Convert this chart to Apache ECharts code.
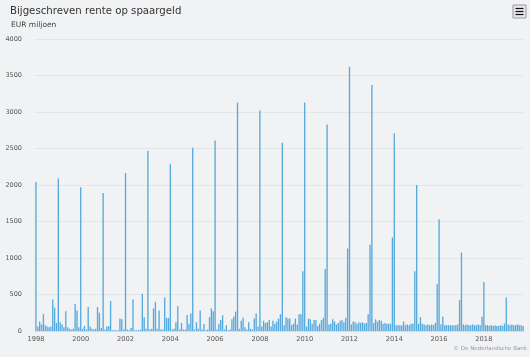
<!DOCTYPE html>
<html>
<head>
<meta charset="utf-8">
<script src="https://cdn.jsdelivr.net/npm/echarts@6/dist/echarts.min.js"></script>
<style>
html,body{margin:0;padding:0;background:#f1f2f4;}
#c{width:530px;height:357px;}
</style>
</head>
<body>
<div id="c"></div>
<script>
// Monthly interest credited on savings (EUR million), Jan..Dec per year
const y1998 = [2040, 60, 130, 90, 230, 80, 60, 50, 60, 430, 320, 110];
const y1999 = [2090, 120, 90, 50, 270, 50, 30, 20, 30, 370, 280, 50];
const y2000 = [1970, 30, 70, 20, 330, 60, 30, 20, 30, 330, 250, 40];
const y2001 = [1890, 20, 60, 70, 410, 10, 10, 10, 10, 170, 160, 20];
const y2002 = [2165, 20, 10, 40, 430, 10, 10, 10, 20, 510, 190, 30];
const y2003 = [2465, 20, 30, 310, 400, 30, 280, 20, 20, 460, 180, 180];
const y2004 = [2290, 20, 30, 120, 340, 20, 110, 20, 20, 220, 100, 240];
const y2005 = [2510, 20, 120, 30, 280, 20, 95, 10, 20, 190, 310, 270];
const y2006 = [2610, 20, 100, 150, 215, 20, 80, 10, 20, 160, 200, 265];
const y2007 = [3130, 30, 140, 180, 50, 20, 120, 30, 20, 170, 240, 60];
const y2008 = [3020, 60, 140, 110, 120, 150, 60, 140, 100, 130, 170, 230];
const y2009 = [2580, 80, 190, 170, 170, 80, 100, 170, 90, 230, 230, 820];
const y2010 = [3130, 60, 170, 160, 100, 150, 150, 70, 100, 150, 180, 850];
const y2011 = [2830, 90, 100, 160, 130, 90, 110, 140, 150, 120, 180, 1130];
const y2012 = [3620, 90, 130, 120, 100, 120, 110, 120, 100, 110, 230, 1180];
const y2013 = [3370, 110, 160, 130, 150, 140, 100, 110, 100, 100, 100, 1280];
const y2014 = [2710, 80, 80, 80, 80, 130, 80, 90, 80, 100, 100, 820];
const y2015 = [2000, 100, 190, 100, 90, 80, 90, 80, 90, 80, 110, 640];
const y2016 = [1530, 90, 200, 80, 80, 80, 80, 80, 80, 80, 90, 425];
const y2017 = [1075, 90, 80, 90, 80, 80, 90, 80, 80, 90, 80, 195];
const y2018 = [670, 80, 80, 70, 80, 70, 80, 70, 70, 80, 70, 100];
const y2019 = [460, 90, 80, 90, 80, 80, 90, 80, 80, 70];

const yearArrays = [y1998,y1999,y2000,y2001,y2002,y2003,y2004,y2005,y2006,y2007,y2008,
  y2009,y2010,y2011,y2012,y2013,y2014,y2015,y2016,y2017,y2018,y2019];
const firstYear = 1998;
const xTickLabels = ['1998','2000','2002','2004','2006','2008','2010','2012','2014','2016','2018'];
const yTicks = [0, 500, 1000, 1500, 2000, 2500, 3000, 3500, 4000];

const categories = [];
const values = [];
yearArrays.forEach((arr, yi) => {
  arr.forEach((v, mi) => {
    categories.push((firstYear + yi) + '-' + String(mi + 1).padStart(2, '0'));
    values.push(v);
  });
});

const chart = echarts.init(document.getElementById('c'), null, {renderer: 'canvas'});
chart.setOption({
  animation: false,
  backgroundColor: '#f1f2f4',
  textStyle: {fontFamily: 'DejaVu Sans'},
  title: [
    {text: 'Bijgeschreven rente op spaargeld', left: 10, top: 6, padding: 0,
     textStyle: {fontSize: 10.2, fontWeight: 'normal', color: '#333', fontFamily: 'DejaVu Sans'}},
    {text: 'EUR miljoen', left: 11, top: 21, padding: 0,
     textStyle: {fontSize: 7.5, fontWeight: 'normal', color: '#444', fontFamily: 'DejaVu Sans'}},
    {text: '© De Nederlandsche Bank', right: 3, bottom: 5, padding: 0,
     textStyle: {fontSize: 5.5, fontWeight: 'normal', color: '#999', fontFamily: 'DejaVu Sans'}}
  ],
  grid: {left: 35, right: 6, top: 39, bottom: 26},
  xAxis: {
    type: 'category',
    data: categories,
    axisLine: {show: true, lineStyle: {color: '#d5dbe4', width: 1}},
    axisTick: {show: false},
    axisLabel: {
      color: '#555', fontSize: 6.7, margin: 5,
      interval: (idx, val) => val.endsWith('-01') && xTickLabels.includes(val.slice(0, 4)),
      formatter: (val) => val.slice(0, 4)
    },
    splitLine: {show: false}
  },
  yAxis: {
    type: 'value',
    min: yTicks[0], max: yTicks[yTicks.length - 1], interval: 500,
    axisLine: {show: false},
    axisTick: {show: false},
    axisLabel: {color: '#555', fontSize: 6.5, margin: 13, formatter: (v) => String(v)},
    splitLine: {lineStyle: {color: '#e2e5e9', width: 1}}
  },
  series: [{
    type: 'bar',
    data: values,
    barWidth: '72%',
    itemStyle: {color: '#55aadd'}
  }],
  graphic: [
    {type: 'rect', shape: {x: 513, y: 5, width: 13, height: 13},
     style: {fill: '#e6e7ea', stroke: '#9a9a9a', lineWidth: 1}},
    {type: 'line', shape: {x1: 515.5, y1: 8.5, x2: 523.5, y2: 8.5}, style: {stroke: '#111', lineWidth: 1.2}},
    {type: 'line', shape: {x1: 515.5, y1: 11.5, x2: 523.5, y2: 11.5}, style: {stroke: '#111', lineWidth: 1.2}},
    {type: 'line', shape: {x1: 515.5, y1: 14.5, x2: 523.5, y2: 14.5}, style: {stroke: '#111', lineWidth: 1.2}}
  ]
});
</script>
</body>
</html>
